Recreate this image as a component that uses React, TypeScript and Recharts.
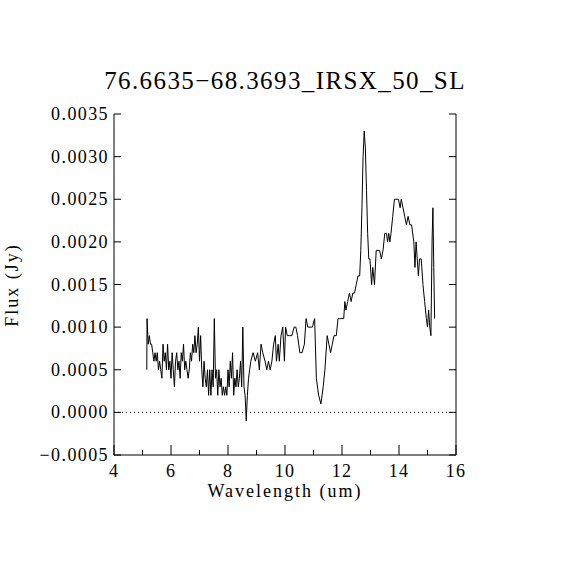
import { LineChart, Line, XAxis, YAxis, ReferenceLine } from 'recharts'

// wavelength (um) and flux (units of 1e-4 Jy)
const wavelength = [
  5.15, 5.16, 5.2, 5.24, 5.28, 5.32, 5.36, 5.4, 5.44, 5.48, 5.52, 5.56, 5.6, 5.64, 5.68, 5.72,
  5.76, 5.8, 5.84, 5.88, 5.92, 5.96, 6.0, 6.04, 6.08, 6.12, 6.16, 6.2, 6.24, 6.28, 6.32, 6.36,
  6.4, 6.44, 6.48, 6.52, 6.56, 6.6, 6.64, 6.68, 6.72, 6.76, 6.8, 6.84, 6.88, 6.92, 6.96, 7.0,
  7.04, 7.08, 7.12, 7.16, 7.2, 7.24, 7.28, 7.32, 7.36, 7.4, 7.44, 7.48, 7.52, 7.56, 7.6, 7.64,
  7.68, 7.72, 7.76, 7.8, 7.84, 7.88, 7.92, 7.96, 8.0, 8.04, 8.08, 8.12, 8.16, 8.2, 8.24, 8.28,
  8.32, 8.36, 8.4, 8.44, 8.48, 8.52, 8.56, 8.6, 8.64, 8.68, 8.72, 8.76, 8.8, 8.88, 8.96, 9.04,
  9.1, 9.16, 9.22, 9.3, 9.36, 9.42, 9.48, 9.54, 9.6, 9.66, 9.7, 9.76, 9.8, 9.86, 9.92, 9.98,
  10.02, 10.08, 10.16, 10.24, 10.32, 10.38, 10.44, 10.52, 10.6, 10.68, 10.74, 10.8, 10.88, 10.96,
  11.04, 11.1, 11.18, 11.26, 11.34, 11.4, 11.48, 11.54, 11.6, 11.66, 11.72, 11.8, 11.86, 11.92,
  12.0, 12.06, 12.1, 12.14, 12.2, 12.26, 12.32, 12.38, 12.44, 12.5, 12.56, 12.62, 12.66, 12.7,
  12.74, 12.78, 12.82, 12.86, 12.9, 12.94, 12.98, 13.04, 13.08, 13.14, 13.2, 13.26, 13.32, 13.38,
  13.44, 13.5, 13.56, 13.6, 13.64, 13.68, 13.72, 13.78, 13.84, 13.9, 13.98, 14.04, 14.08, 14.14,
  14.2, 14.26, 14.32, 14.38, 14.44, 14.52, 14.56, 14.6, 14.64, 14.68, 14.72, 14.78, 14.84, 14.9,
  14.96, 15.0, 15.04, 15.08, 15.12, 15.16, 15.19, 15.22, 15.25,
]

const flux = [
  5, 11, 8, 9, 8, 8, 7, 6, 7, 6, 7, 5, 6, 5, 4, 8,
  6, 7, 5, 8, 5, 6, 4, 7, 5, 3, 6, 7, 5, 6, 4, 7,
  6, 8, 5, 6, 5, 4, 5, 7, 6, 8, 7, 9, 7, 8, 10, 6,
  9, 5, 3, 6, 4, 3, 5, 2, 5, 2, 5, 3, 11, 4, 5, 2,
  5, 3, 4, 2, 3, 2, 3, 2, 5, 3, 6, 4, 7, 2, 4, 3,
  5, 3, 4, 6, 3, 10, 3, 2, -1, 2, 4, 5, 6, 7, 6, 7,
  5, 8, 7, 6, 5, 6, 5, 6, 8, 9, 6, 8, 6, 9, 10, 6,
  10, 9, 9, 9, 10, 10, 9, 7, 7, 8, 11, 10, 10, 10,
  11, 4, 2, 1, 3, 5, 9, 8, 7, 8, 9, 9, 11, 11,
  11, 11, 13, 12, 13, 14, 13, 14, 14, 15, 16, 16, 19, 24,
  30, 33, 31, 26, 21, 18, 18, 15, 17, 15, 19, 19, 19, 18,
  19, 21, 21, 20, 21, 20, 21, 23, 25, 25, 25, 24, 25, 24,
  23, 22, 23, 22, 22, 20, 17, 20, 18, 16, 18, 18, 15, 13,
  11, 10, 12, 10, 9, 20, 24, 17, 11,
]

const xTicks = [4, 5, 6, 7, 8, 9, 10, 11, 12, 13, 14, 15, 16]
const xLabelled = [4, 6, 8, 10, 12, 14, 16]
const yTicks = [-0.0005, 0, 0.0005, 0.001, 0.0015, 0.002, 0.0025, 0.003, 0.0035]

const data = wavelength.map((w, i) => ({ w, f: flux[i] * 1e-4 }))

const FONT = 'Liberation Serif'

const fmtY = (v: number) => v.toFixed(4).replace('-', '\u2212')

function BottomTick(props: any) {
  const { x, y, payload } = props
  const major = xLabelled.includes(payload.value)
  return (
    <g>
      <line x1={x} y1={y} x2={x} y2={y - (major ? 10 : 5)} stroke="#000" />
      {major && (
        <text x={x} y={y + 22} textAnchor="middle" fontFamily={FONT} fontSize={18} letterSpacing={1.2} fill="#000">
          {payload.value}
        </text>
      )}
    </g>
  )
}

function TopTick(props: any) {
  const { x, y, payload } = props
  const major = xLabelled.includes(payload.value)
  return <line x1={x} y1={y} x2={x} y2={y + (major ? 10 : 5)} stroke="#000" />
}

function LeftTick(props: any) {
  const { x, y, payload } = props
  return (
    <g>
      <line x1={x} y1={y} x2={x + 7} y2={y} stroke="#000" />
      <text x={x - 5} y={y + 6} textAnchor="end" fontFamily={FONT} fontSize={18} letterSpacing={1.4} fill="#000">
        {fmtY(payload.value)}
      </text>
    </g>
  )
}

function RightTick(props: any) {
  const { x, y } = props
  return <line x1={x} y1={y} x2={x - 7} y2={y} stroke="#000" />
}

export default function App() {
  return (
    <div style={{ position: 'absolute', left: 0, top: 0, width: 570, height: 570, background: '#fff' }}>
      <LineChart width={570} height={570} data={data} margin={{ top: 114, right: 0, bottom: 0, left: 0 }}>
        <XAxis
          xAxisId="b"
          dataKey="w"
          type="number"
          domain={[4, 16]}
          ticks={xTicks}
          interval={0}
          height={115}
          tickSize={0}
          tickMargin={0}
          tickLine={false}
          axisLine={{ stroke: '#000' }}
          tick={<BottomTick />}
          allowDataOverflow
        />
        <XAxis
          xAxisId="t"
          dataKey="w"
          type="number"
          orientation="top"
          domain={[4, 16]}
          ticks={xTicks}
          interval={0}
          height={0}
          tickSize={0}
          tickMargin={0}
          tickLine={false}
          axisLine={{ stroke: '#000' }}
          tick={<TopTick />}
          allowDataOverflow
        />
        <YAxis
          yAxisId="l"
          type="number"
          domain={[-0.0005, 0.0035]}
          ticks={yTicks}
          interval={0}
          width={114}
          tickSize={0}
          tickMargin={0}
          tickLine={false}
          axisLine={{ stroke: '#000' }}
          tick={<LeftTick />}
          allowDataOverflow
        />
        <YAxis
          yAxisId="r"
          orientation="right"
          type="number"
          domain={[-0.0005, 0.0035]}
          ticks={yTicks}
          interval={0}
          width={114}
          tickSize={0}
          tickMargin={0}
          tickLine={false}
          axisLine={{ stroke: '#000' }}
          tick={<RightTick />}
          allowDataOverflow
        />
        <ReferenceLine xAxisId="b" yAxisId="l" y={0} stroke="#000" strokeDasharray="1 3" />
        <Line
          xAxisId="b"
          yAxisId="l"
          dataKey="f"
          type="linear"
          stroke="#000"
          strokeWidth={1}
          dot={false}
          isAnimationActive={false}
        />
        <Line
          xAxisId="t"
          yAxisId="r"
          dataKey="f"
          type="linear"
          stroke="none"
          dot={false}
          activeDot={false}
          isAnimationActive={false}
        />
      </LineChart>
      <div
        style={{
          position: 'absolute',
          left: 0,
          width: 570,
          top: 67,
          textAlign: 'center',
          fontFamily: FONT,
          fontSize: 25,
          letterSpacing: 1.4,
        }}
      >
        76.6635{'\u2212'}68.3693_IRSX_50_SL
      </div>
      <div
        style={{
          position: 'absolute',
          left: 0,
          width: 570,
          top: 481,
          textAlign: 'center',
          fontFamily: FONT,
          fontSize: 18,
          letterSpacing: 2,
        }}
      >
        Wavelength (um)
      </div>
      <div
        style={{
          position: 'absolute',
          left: 12,
          top: 285,
          fontFamily: FONT,
          fontSize: 18,
          letterSpacing: 2,
          whiteSpace: 'nowrap',
          transform: 'translate(-50%, -50%) rotate(-90deg)',
        }}
      >
        Flux (Jy)
      </div>
    </div>
  )
}
